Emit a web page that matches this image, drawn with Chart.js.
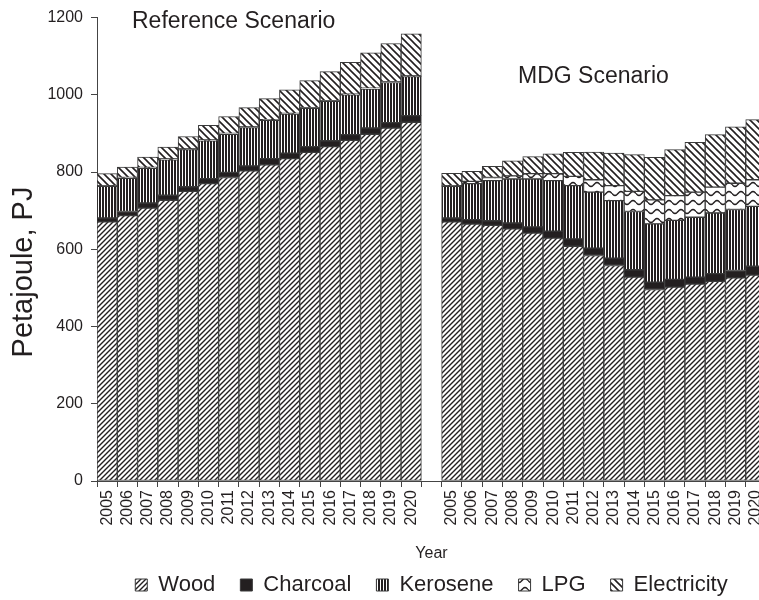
<!DOCTYPE html>
<html>
<head>
<meta charset="utf-8">
<script src="https://cdn.jsdelivr.net/npm/chart.js@4.4.1/dist/chart.umd.min.js"></script>
<style>
  html, body { margin: 0; padding: 0; background: #fff; overflow: hidden; }
  #chart { display: block; }
</style>
</head>
<body>
<canvas id="chart" width="780" height="606"></canvas>
<script>
// ---------------- DATA (Petajoule) ----------------
const years = ['2005', '2006', '2007', '2008', '2009', '2010', '2011', '2012',
               '2013', '2014', '2015', '2016', '2017', '2018', '2019', '2020'];

// Reference Scenario
const refWood        = [671, 687, 707, 727, 750, 770, 786, 803, 819, 835, 851, 866, 882, 898, 914, 929];
const refCharcoal    = [10, 11, 13, 13, 12, 13, 13, 13, 16, 14, 15, 15, 15, 16, 14, 17];
const refKerosene    = [82, 86, 90, 92, 96, 98, 99, 99, 99, 101, 99, 102, 103, 101, 104, 101];
const refLpg         = [2, 2, 2, 2, 2, 2, 2, 2, 2, 2, 2, 2, 2, 2, 2, 2];
const refElectricity = [31, 27, 27, 31, 32, 38, 44, 50, 54, 61, 70, 75, 82, 92, 99, 109];

// MDG Scenario
const mdgWood        = [671, 665, 662, 653, 642, 629, 608, 584, 558, 528, 496, 502, 510, 517, 526, 533];
const mdgCharcoal    = [10, 12, 12, 15, 16, 18, 19, 19, 19, 19, 19, 20, 18, 20, 19, 23];
const mdgKerosene    = [82, 93, 104, 114, 124, 131, 138, 145, 149, 151, 151, 153, 155, 157, 158, 155];
const mdgLpg         = [2, 6, 8, 8, 14, 18, 24, 32, 39, 52, 62, 64, 65, 67, 68, 69];
const mdgElectricity = [32, 26, 29, 39, 44, 51, 62, 72, 84, 95, 110, 119, 129, 136, 146, 156];

const yTicks = [0, 200, 400, 600, 800, 1000, 1200];

// one empty slot between the two scenarios
const labels = [...years, '', ...years];
const join = (a, b) => [...a, null, ...b];

// ---------------- PATTERNS ----------------
const INK = '#231f20';
const FONT = '"Liberation Sans", Arial, sans-serif';
const canvas = document.getElementById('chart');
const mainCtx = canvas.getContext('2d');

function makePattern(w, h, draw) {
  const c = document.createElement('canvas');
  c.width = w;
  c.height = h;
  const g = c.getContext('2d');
  g.fillStyle = '#fff';
  g.fillRect(0, 0, w, h);
  g.strokeStyle = INK;
  g.fillStyle = INK;
  draw(g, w, h);
  return mainCtx.createPattern(c, 'repeat');
}

// "/" hatch
const woodFill = makePattern(5, 5, (g, w, h) => {
  g.lineWidth = 1.4;
  g.beginPath();
  g.moveTo(-1, h + 1); g.lineTo(w + 1, -1);
  g.moveTo(-1, 1); g.lineTo(1, -1);
  g.moveTo(w - 1, h + 1); g.lineTo(w + 1, h - 1);
  g.stroke();
});

// vertical lines
const keroFill = makePattern(3, 2, (g) => {
  g.fillRect(0, 0, 2, 2);
});

// wavy lines
const lpgFill = makePattern(12, 9, (g, w, h) => {
  g.lineWidth = 1.5;
  g.beginPath();
  for (let i = 0; i <= w; i++) {
    const yy = h / 2 + 2 * Math.sin((i / w) * Math.PI * 2);
    if (i === 0) g.moveTo(i, yy); else g.lineTo(i, yy);
  }
  g.stroke();
});

// "\" hatch, wider
const elecFill = makePattern(7, 7, (g, w, h) => {
  g.lineWidth = 1.6;
  g.beginPath();
  g.moveTo(-1, -1); g.lineTo(w + 1, h + 1);
  g.moveTo(w - 1, -1); g.lineTo(w + 1, 1);
  g.moveTo(-1, h - 1); g.lineTo(1, h + 1);
  g.stroke();
});

// ---------------- TEXT INSIDE / BESIDE PLOT ----------------
const extraText = {
  id: 'extraText',
  afterDraw(chart) {
    const { ctx, chartArea } = chart;
    ctx.save();
    ctx.fillStyle = INK;
    ctx.textAlign = 'left';
    ctx.textBaseline = 'alphabetic';
    ctx.font = '23px ' + FONT;
    ctx.fillText('Reference Scenario', chartArea.left + 35, 28);
    ctx.fillText('MDG Scenario', chartArea.left + 421, 83);

    // y axis title, sits a bit below the middle like the original
    ctx.translate(24, 272);
    ctx.rotate(-Math.PI / 2);
    ctx.textAlign = 'center';
    ctx.textBaseline = 'middle';
    ctx.font = '29px ' + FONT;
    ctx.fillText('Petajoule, PJ', 0, 0);
    ctx.restore();
  }
};

// ---------------- CHART ----------------
const barStyle = {
  borderColor: '#3a3a3a',
  borderWidth: 1,
  borderSkipped: false,
  barPercentage: 1,
  categoryPercentage: 1
};

new Chart(canvas, {
  type: 'bar',
  data: {
    labels,
    datasets: [
      { label: 'Wood', data: join(refWood, mdgWood), backgroundColor: woodFill, ...barStyle },
      { label: 'Charcoal', data: join(refCharcoal, mdgCharcoal), backgroundColor: INK, ...barStyle },
      { label: 'Kerosene', data: join(refKerosene, mdgKerosene), backgroundColor: keroFill, ...barStyle },
      { label: 'LPG', data: join(refLpg, mdgLpg), backgroundColor: lpgFill, ...barStyle },
      { label: 'Electricity', data: join(refElectricity, mdgElectricity), backgroundColor: elecFill, ...barStyle }
    ]
  },
  options: {
    responsive: false,
    animation: false,
    devicePixelRatio: 1,
    layout: { padding: { top: 16, right: 14, left: 0, bottom: 0 } },
    plugins: {
      tooltip: { enabled: false },
      legend: {
        position: 'bottom',
        fullSize: false,
        labels: {
          font: { family: FONT, size: 22 },
          color: INK,
          boxWidth: 12,
          boxHeight: 12,
          padding: 25
        }
      }
    },
    scales: {
      x: {
        stacked: true,
        offset: true,
        afterFit: (scale) => { scale.height = 68; },
        grid: { display: true, drawOnChartArea: false, offset: true, tickLength: 6, color: '#444' },
        border: { color: '#444', width: 1 },
        ticks: {
          autoSkip: false,
          maxRotation: 90,
          minRotation: 90,
          padding: 3,
          color: INK,
          font: { family: FONT, size: 16 }
        },
        title: {
          display: true,
          text: 'Year',
          color: INK,
          font: { family: FONT, size: 16 },
          padding: { top: 0, bottom: -14 }
        }
      },
      y: {
        stacked: true,
        min: 0,
        max: 1200,
        afterBuildTicks: (scale) => { scale.ticks = yTicks.map(v => ({ value: v })); },
        afterFit: (scale) => { scale.width = 97; },
        grid: { display: true, drawOnChartArea: false, tickLength: 6, color: '#444' },
        border: { color: '#444', width: 1 },
        ticks: {
          padding: 8,
          color: INK,
          font: { family: FONT, size: 16 },
          callback: (v) => String(v)
        }
      }
    }
  },
  plugins: [extraText]
});
</script>
</body>
</html>
